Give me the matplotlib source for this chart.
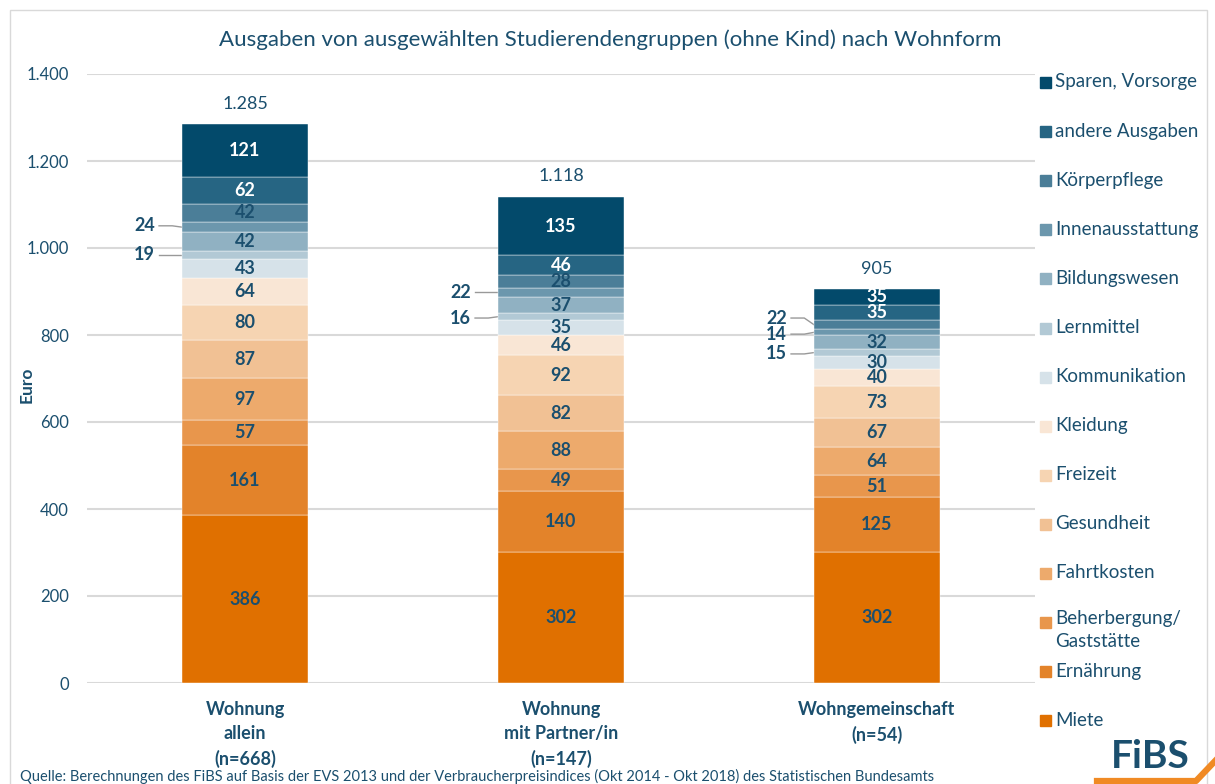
import numpy as np
import matplotlib.pyplot as plt
from matplotlib.patches import Rectangle
from matplotlib.lines import Line2D
from matplotlib.ticker import FuncFormatter

plt.rcParams['font.family'] = ['Lato', 'DejaVu Sans']

TEAL = '#1b4f6e'

groups = ["Wohnung\nallein\n(n=668)", "Wohnung\nmit Partner/in\n(n=147)", "Wohngemeinschaft\n(n=54)"]
categories = ["Miete", "Ernährung", "Beherbergung/\nGaststätte", "Fahrtkosten", "Gesundheit",
              "Freizeit", "Kleidung", "Kommunikation", "Lernmittel", "Bildungswesen",
              "Innenausstattung", "Körperpflege", "andere Ausgaben", "Sparen, Vorsorge"]
allein = [386, 161, 57, 97, 87, 80, 64, 43, 19, 42, 24, 42, 62, 121]
partner = [302, 140, 49, 88, 82, 92, 46, 35, 16, 37, 22, 28, 46, 135]
wg = [302, 125, 51, 64, 67, 73, 40, 30, 15, 32, 14, 22, 35, 35]
colors = ['#e07000', '#e3832a', '#e8964c', '#edaa6c', '#f1c194', '#f6d4b2', '#f9e6d5',
          '#d6e2e9', '#b2c9d5', '#90b1c2', '#6c97ad', '#4b7e98', '#266583', '#034a6b']

# small segments labelled beside the bar: (group, category, label shift in Euro)
callouts = [(0, 8, 0), (0, 10, 3), (1, 8, -3), (1, 10, 0), (2, 8, -3), (2, 10, -4), (2, 11, 15)]

values = np.array([allein, partner, wg])
x = np.arange(len(groups))
width = 0.4

fig = plt.figure(figsize=(12.15, 7.84), dpi=100)
ax = fig.add_axes([87 / 1215, 1 - 683 / 784, 948 / 1215, 609 / 784])

bottom = np.zeros(len(groups))
for j, cat in enumerate(categories):
    vals = values[:, j]
    ax.bar(x, vals, width, bottom=bottom, color=colors[j], edgecolor='white',
           linewidth=0.3, zorder=2)
    for i in range(len(groups)):
        if any(c[0] == i and c[1] == j for c in callouts):
            continue
        tc = 'white' if j >= 12 else TEAL
        ax.text(x[i], bottom[i] + vals[i] / 2, str(vals[i]), ha='center', va='center',
                color=tc, fontsize=13, fontweight='bold', zorder=3)
    bottom += vals

totals = values.sum(axis=1)
for i, t in enumerate(totals):
    ax.annotate(f"{t:,}".replace(",", "."), (x[i], t), xytext=(0, 9), textcoords='offset points',
                ha='center', va='bottom', color=TEAL, fontsize=13)

cum = np.cumsum(values, axis=1)
for i, j, shift in callouts:
    mid = cum[i, j] - values[i, j] / 2
    left = x[i] - width / 2
    ly = mid + shift
    ax.text(left - 0.085, ly, str(values[i, j]), ha='right', va='center', color=TEAL,
            fontsize=13, fontweight='bold')
    ax.plot([left - 0.072, left - 0.03, left], [ly, ly, mid], color='#999999', lw=1,
            zorder=1, clip_on=False)

ax.set_xlim(-0.5, 2.5)
ax.set_ylim(0, 1400)
ax.set_yticks(np.arange(0, 1401, 200))
ax.yaxis.set_major_formatter(FuncFormatter(lambda v, p: f"{int(v):,}".replace(",", ".")))
ax.grid(axis='y', color='#d9d9d9', lw=1.5, zorder=0)
ax.set_axisbelow(True)
for s in ax.spines.values():
    s.set_visible(False)
ax.set_xticks(x)
ax.set_xticklabels(groups, fontsize=13, fontweight='bold', color=TEAL, linespacing=1.5)
ax.tick_params(axis='x', length=0, pad=13)
ax.tick_params(axis='y', length=0, pad=13, labelsize=12, labelcolor=TEAL)
fig.text(27 / 1215, 1 - 385 / 784, "Euro", rotation=90, ha='center', va='center',
         fontsize=12.5, fontweight='bold', color=TEAL)

fig.text(610 / 1215, 1 - 40 / 784, "Ausgaben von ausgewählten Studierendengruppen (ohne Kind) nach Wohnform",
         ha='center', va='center', fontsize=16, color=TEAL)

# legend, top to bottom
for k, j in enumerate(range(len(categories) - 1, -1, -1)):
    yp = 82 + k * 49.1
    fig.patches.append(Rectangle((1040 / 1215, 1 - (yp + 6) / 784), 11 / 1215, 11 / 784,
                                 transform=fig.transFigure, color=colors[j]))
    if '\n' in categories[j]:
        fig.text(1055 / 1215, 1 - (yp - 12) / 784, categories[j], ha='left', va='top',
                 fontsize=13.5, color=TEAL, linespacing=1.45)
    else:
        fig.text(1055 / 1215, 1 - yp / 784, categories[j], ha='left', va='center',
                 fontsize=13.5, color=TEAL)

fig.text(20 / 1215, 1 - 769 / 784,
         "Quelle: Berechnungen des FiBS auf Basis der EVS 2013 und der Verbraucherpreisindices (Okt 2014 - Okt 2018) des Statistischen Bundesamts",
         ha='left', va='top', fontsize=10.5, color=TEAL)

# frame and logo
fig.patches.append(Rectangle((10 / 1215, -0.02), 1197 / 1215, 1 - 10 / 784 + 0.02,
                             transform=fig.transFigure, fill=False, edgecolor='#d9d9d9', lw=1))
fig.text(1150 / 1215, 1 - 756 / 784, "FiBS", ha='center', va='center', fontsize=28,
         fontweight='bold', color=TEAL)
fig.lines.append(Line2D([1097 / 1215, 1196 / 1215, 1216 / 1215], [1 - 781 / 784, 1 - 781 / 784, 1 - 760 / 784],
                        transform=fig.transFigure, color='#f08a24', lw=4.5))

fig.savefig('out.png', dpi=100)
